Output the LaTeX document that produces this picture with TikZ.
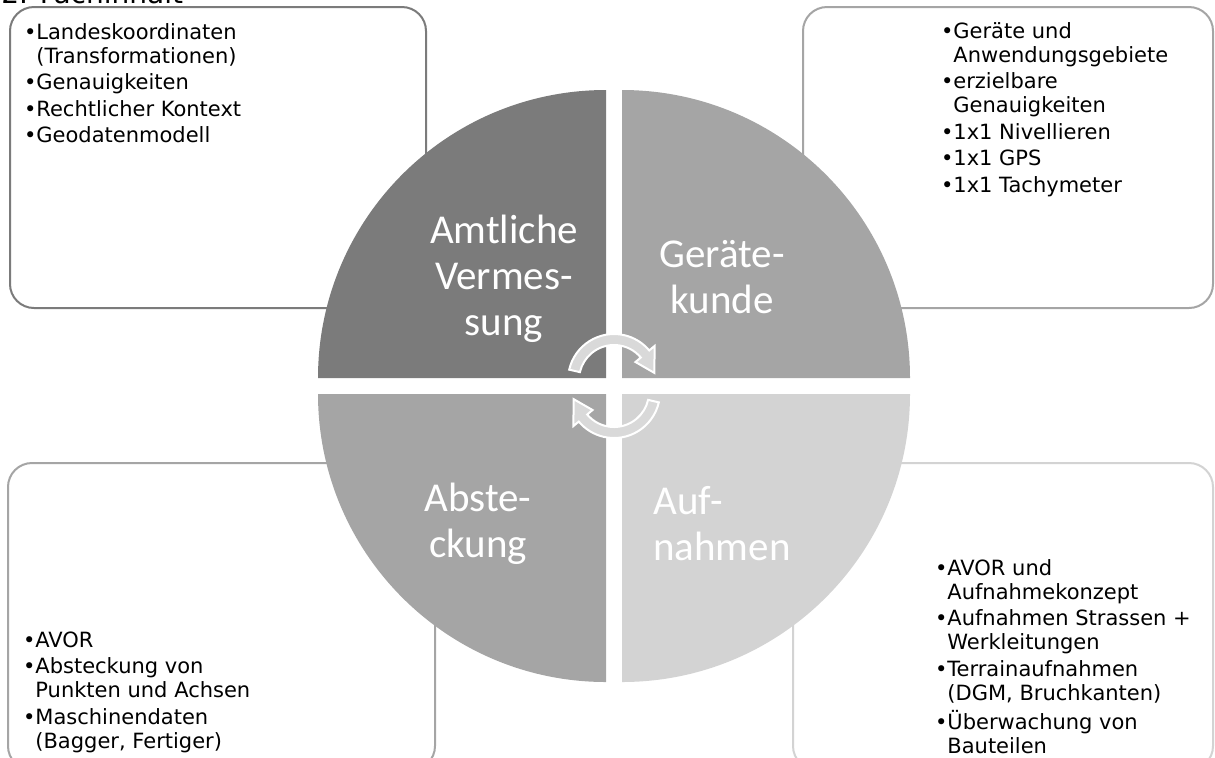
\documentclass[tikz,border=0pt]{standalone}
\usepackage{fontspec}
\setmainfont{DejaVu Sans}
\newfontfamily\labelfont{Carlito}
\definecolor{qdark}{HTML}{7B7B7B}
\definecolor{qmid}{HTML}{A5A5A5}
\definecolor{qlight}{HTML}{D3D3D3}
\definecolor{turnfill}{HTML}{D9D9D9}
\newcommand{\bul}{\hfill\textbullet\hspace{0.5pt}}
\begin{document}
\begin{tikzpicture}[x=0.5pt,y=-0.5pt]
    \tikzset{
    infobox/.style={line width=1pt, fill=white, rounded corners=12pt},
    turn/.style={fill=turnfill, draw=white, line width=1pt},
    quadlabel/.style={text=white, font=\labelfont\fontsize{20.5}{23}\selectfont, align=center, inner sep=0pt},
    itemlist/.style={font=\fontsize{10.5}{12}\selectfont, anchor=base west, inner sep=0pt}
    }
    \useasboundingbox (0,0) rectangle (1215,757);

    % title, cut at the top
    \node[anchor=base west, inner sep=0pt, font=\fontsize{14}{16}\selectfont] (title) at (1,3) {2. Fachinhalt};

    % boxes behind the circle
    \draw[infobox, draw=qdark] (10,7) rectangle (426,308);
    \draw[infobox, draw=qmid] (803,7) rectangle (1213,308);
    \draw[infobox, draw=qmid] (8,463) rectangle (435,770);
    \draw[infobox, draw=qlight] (793,463) rectangle (1213,770);

    % the four quarters
    \begin{scope}[shift={(614,386)}, yscale=-1]
        \fill[qdark] (-8,8) -- (-296,8) arc[start angle=180, end angle=90, radius=288] -- cycle;
        \fill[qmid] (8,8) -- (296,8) arc[start angle=0, end angle=90, radius=288] -- cycle;
        \fill[qmid] (-8,-8) -- (-296,-8) arc[start angle=180, end angle=270, radius=288] -- cycle;
        \fill[qlight] (8,-8) -- (296,-8) arc[start angle=0, end angle=-90, radius=288] -- cycle;
    \end{scope}

    % turning arrows
    \begin{scope}[shift={(614,380)}, yscale=-1]
        \draw[turn] (167:46) arc[start angle=167, end angle=40, radius=46] -- (40:53) -- (10:41) -- (40:28) -- (40:35) arc[start angle=40, end angle=167, radius=35] -- cycle;
    \end{scope}
    \begin{scope}[shift={(614,392)}, xscale=-1]
        \draw[turn] (167:46) arc[start angle=167, end angle=40, radius=46] -- (40:53) -- (10:41) -- (40:28) -- (40:35) arc[start angle=40, end angle=167, radius=35] -- cycle;
    \end{scope}

    \node[quadlabel] (amtlich) at (504,279) {Amtliche\\Vermes-\\sung};
    \node[quadlabel] (geraete) at (722,277) {Geräte-\\kunde};
    \node[quadlabel] (abst) at (478,524) {Abste-\\ckung};
    \node[quadlabel, align=left] (aufn) at (722,524) {Auf-\\nahmen};

    \node[itemlist] (amtlist) at (20,39) {\begin{tabular}[t]{@{}p{8pt}@{}l@{}}
        \bul & Landeskoordinaten\\
        & (Transformationen)\\[1.3pt]
        \bul & Genauigkeiten\\[1.3pt]
        \bul & Rechtlicher Kontext\\[1.3pt]
        \bul & Geodatenmodell
    \end{tabular}};
    \node[itemlist] (geraetlist) at (937,38) {\begin{tabular}[t]{@{}p{8pt}@{}l@{}}
        \bul & Geräte und\\
        & Anwendungsgebiete\\[1.3pt]
        \bul & erzielbare\\
        & Genauigkeiten\\[1.3pt]
        \bul & 1x1 Nivellieren\\[1.3pt]
        \bul & 1x1 GPS\\[1.3pt]
        \bul & 1x1 Tachymeter
    \end{tabular}};
    \node[itemlist] (abstlist) at (19,647) {\begin{tabular}[t]{@{}p{8pt}@{}l@{}}
        \bul & AVOR\\[1.3pt]
        \bul & Absteckung von\\
        & Punkten und Achsen\\[1.3pt]
        \bul & Maschinendaten\\
        & (Bagger, Fertiger)
    \end{tabular}};
    \node[itemlist] (aufnlist) at (931,575) {\begin{tabular}[t]{@{}p{8pt}@{}l@{}}
        \bul & AVOR und\\
        & Aufnahmekonzept\\[1.3pt]
        \bul & Aufnahmen Strassen +\\
        & Werkleitungen\\[1.3pt]
        \bul & Terrainaufnahmen\\
        & (DGM, Bruchkanten)\\[1.3pt]
        \bul & Überwachung von\\
        & Bauteilen
    \end{tabular}};
\end{tikzpicture}
\end{document}
